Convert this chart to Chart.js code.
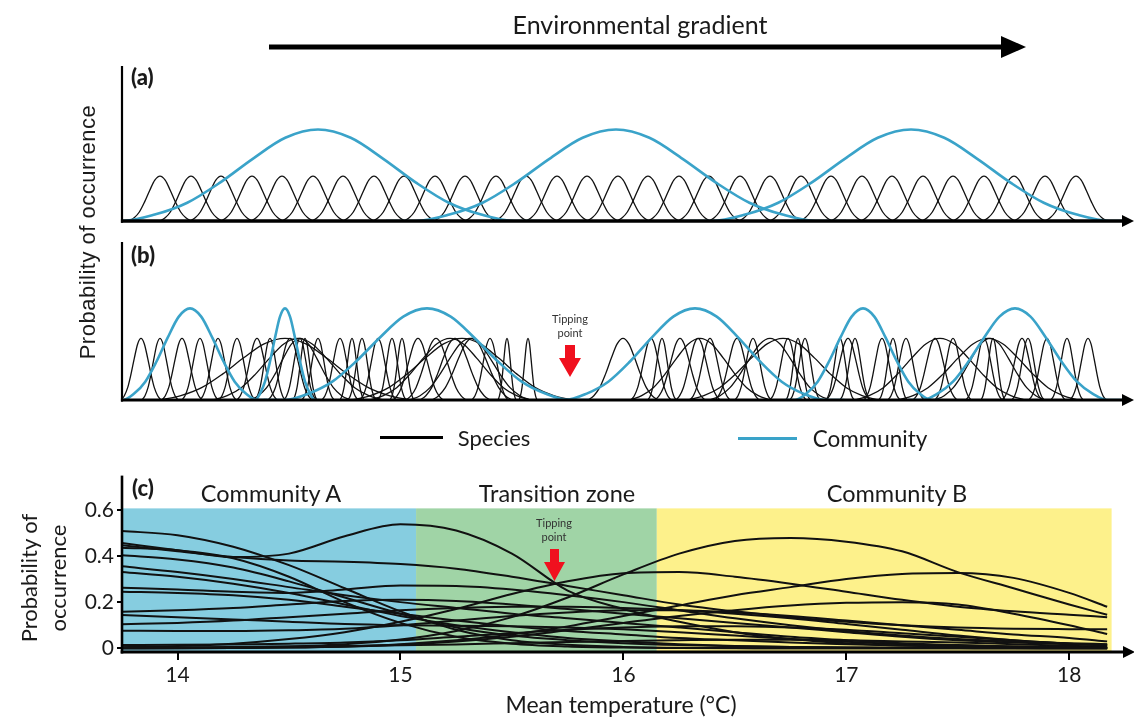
<!DOCTYPE html>
<html>
<head>
<meta charset="utf-8">
<script src="https://cdn.jsdelivr.net/npm/chart.js@4.4.1/dist/chart.umd.min.js"></script>
<style>
  body { margin: 0; width: 1134px; height: 718px; overflow: hidden; position: relative; background: #fff;
         font-family: Lato, "Open Sans", sans-serif; color: #1a1a1a; }
  canvas { position: absolute; left: 0; }
  .lbl { position: absolute; white-space: nowrap; transform: translate(-50%, -50%); font-size: 22.5px; }
  .tag { position: absolute; font-weight: 900; font-size: 22px; }
  .tip { position: absolute; transform: translateX(-50%); font-size: 11px; line-height: 14px; text-align: center; color: #333; }
  .key { position: absolute; height: 3px; }
</style>
</head>
<body>
<canvas id="panel-a" width="1134" height="170" style="top:60px"></canvas>
<canvas id="panel-b" width="1134" height="170" style="top:236px"></canvas>
<canvas id="panel-c" width="1134" height="258" style="top:460px"></canvas>

<svg width="1134" height="718" style="position:absolute;left:0;top:0;pointer-events:none">
  <line x1="269" y1="47" x2="1004" y2="47" stroke="#000" stroke-width="5"/>
  <polygon points="1001,36 1026,47 1001,58" fill="#000"/>
  <polygon points="565,345 575,345 575,358 581,358 570,377 559,358 565,358" fill="#f0101e"/>
  <polygon points="550,549 559,549 559,562 565,562 554.5,581 544,562 550,562" fill="#f0101e"/>
</svg>

<div class="lbl" style="left:640px;top:24px;font-size:25px">Environmental gradient</div>
<div class="tag" style="left:131px;top:63px">(a)</div>
<div class="tag" style="left:131px;top:241px">(b)</div>
<div class="tag" style="left:132px;top:474px">(c)</div>
<div class="lbl" style="left:88px;top:232px;transform:translate(-50%,-50%) rotate(-90deg);font-family:'Liberation Sans',Arial,sans-serif;font-size:22px;letter-spacing:0.5px">Probability of occurrence</div>
<div class="tip" style="left:570px;top:312px">Tipping<br>point</div>
<div class="tip" style="left:554px;top:516px">Tipping<br>point</div>

<div class="key" style="left:380px;top:436px;width:63px;background:#000"></div>
<div class="lbl" style="left:494px;top:437px;font-size:22px">Species</div>
<div class="key" style="left:738px;top:437px;width:59px;background:#3aa3c9"></div>
<div class="lbl" style="left:870px;top:438px;font-size:22.5px">Community</div>

<div class="lbl" style="left:271px;top:493px;font-size:23.5px">Community A</div>
<div class="lbl" style="left:557px;top:493px;font-size:23.5px">Transition zone</div>
<div class="lbl" style="left:897px;top:493px;font-size:23.5px">Community B</div>
<div class="lbl" style="left:43px;top:578px;transform:translate(-50%,-50%) rotate(-90deg);text-align:center;line-height:29px;font-size:22px">Probability of<br>occurrence</div>
<div class="lbl" style="left:621px;top:704px;font-size:23px">Mean temperature (°C)</div>

<script>
// shared bell outline: offset in half-widths, height relative to the peak
const bellOffsets = [-1, -0.833, -0.667, -0.5, -0.333, -0.167, 0, 0.167, 0.333, 0.5, 0.667, 0.833, 1];
const bellHeights = [0, 0.07, 0.2, 0.42, 0.68, 0.91, 1, 0.91, 0.68, 0.42, 0.2, 0.07, 0];

// (a) evenly spaced species, gradient units from the y axis
const aSpeciesCentres = [38, 69, 99, 130, 160, 191, 221, 252, 282, 313, 343, 374, 404, 435, 465, 496,
  526, 557, 587, 618, 648, 679, 709, 740, 770, 801, 831, 862, 892, 923, 954];
const aSpeciesHalfWidth = 31;
const aSpeciesPeak = 0.29;
const aCommunityCentres = [196, 494, 789];
const aCommunityHalfWidths = [196, 200, 199];
const aCommunityPeak = 0.59;

// (b) uneven species, narrow and broad niches
const bSpeciesCentres = [19, 38, 60, 78, 96, 115, 135, 148, 168, 178, 183, 196, 218, 230, 240, 256, 270,
  280, 296, 314, 333, 350, 368, 385, 406, 501, 529, 540, 558, 576, 588, 615, 631, 666, 676, 683, 718,
  726, 733, 760, 771, 784, 813, 831, 862, 871, 900, 906, 925, 945, 966,
  163, 176, 178, 328, 340, 348, 578, 648, 661, 818, 866, 868];
const bSpeciesHalfWidths = [20, 18, 20, 18, 18, 18, 20, 15, 22, 16, 12, 16, 18, 12, 14, 18, 14,
  12, 25, 30, 35, 40, 18, 9, 9, 35, 20, 14, 25, 22, 20, 22, 18, 18, 12, 15, 14,
  22, 15, 18, 14, 18, 22, 18, 18, 12, 20, 16, 18, 16, 18,
  125, 85, 50, 80, 110, 60, 70, 60, 95, 85, 90, 55];
const bSpeciesPeak = 0.39;
const bCommunityCentres = [68, 163, 305, 573, 741, 893];
const bCommunityHalfWidths = [67, 30, 142, 130, 68, 93];
const bCommunityPeak = 0.58;

// (c) fitted occurrence curves against mean temperature
const temperatures = [13.75, 14, 14.25, 14.5, 14.75, 15, 15.25, 15.5, 15.75, 16, 16.25, 16.5, 16.75, 17, 17.25, 17.5, 17.75, 18, 18.17];
const spA1 = [0.508, 0.49, 0.44, 0.36, 0.26, 0.16, 0.08, 0.035, 0.015, 0.006, 0.002, 0.001, 0, 0, 0, 0, 0, 0, 0];
const spA2 = [0.456, 0.425, 0.395, 0.41, 0.485, 0.537, 0.51, 0.41, 0.25, 0.17, 0.115, 0.07, 0.04, 0.022, 0.012, 0.006, 0.003, 0.002, 0.001];
const spA3 = [0.446, 0.42, 0.395, 0.38, 0.375, 0.365, 0.345, 0.31, 0.27, 0.23, 0.19, 0.16, 0.135, 0.115, 0.1, 0.09, 0.085, 0.083, 0.082];
const spA4 = [0.436, 0.425, 0.39, 0.31, 0.2, 0.11, 0.05, 0.02, 0.008, 0.003, 0.001, 0, 0, 0, 0, 0, 0, 0, 0];
const spA5 = [0.403, 0.385, 0.35, 0.29, 0.22, 0.15, 0.09, 0.055, 0.035, 0.022, 0.014, 0.009, 0.006, 0.004, 0.002, 0.001, 0.001, 0, 0];
const spA6 = [0.355, 0.33, 0.3, 0.265, 0.23, 0.2, 0.175, 0.15, 0.13, 0.11, 0.09, 0.07, 0.05, 0.035, 0.022, 0.014, 0.008, 0.005, 0.004];
const spA7 = [0.331, 0.31, 0.28, 0.24, 0.19, 0.14, 0.1, 0.07, 0.045, 0.03, 0.018, 0.01, 0.006, 0.003, 0.002, 0.001, 0, 0, 0];
const spA8 = [0.262, 0.255, 0.245, 0.24, 0.255, 0.272, 0.27, 0.255, 0.23, 0.2, 0.165, 0.13, 0.1, 0.075, 0.055, 0.04, 0.03, 0.022, 0.018];
const spA9 = [0.245, 0.24, 0.23, 0.21, 0.18, 0.15, 0.12, 0.095, 0.075, 0.06, 0.045, 0.035, 0.025, 0.018, 0.012, 0.008, 0.005, 0.003, 0.002];
const spA10 = [0.158, 0.165, 0.175, 0.19, 0.205, 0.21, 0.205, 0.19, 0.17, 0.15, 0.13, 0.11, 0.09, 0.07, 0.05, 0.035, 0.025, 0.018, 0.015];
const spA11 = [0.144, 0.135, 0.125, 0.115, 0.105, 0.1, 0.098, 0.095, 0.09, 0.082, 0.07, 0.055, 0.04, 0.028, 0.018, 0.012, 0.008, 0.005, 0.004];
const spA12 = [0.104, 0.11, 0.12, 0.135, 0.15, 0.165, 0.175, 0.18, 0.18, 0.175, 0.165, 0.15, 0.13, 0.105, 0.08, 0.055, 0.035, 0.02, 0.015];
const spA13 = [0.076, 0.075, 0.075, 0.078, 0.085, 0.1, 0.12, 0.14, 0.155, 0.165, 0.165, 0.155, 0.14, 0.12, 0.1, 0.08, 0.06, 0.045, 0.03];
const spA14 = [0.014, 0.015, 0.017, 0.02, 0.025, 0.035, 0.05, 0.065, 0.08, 0.09, 0.095, 0.095, 0.09, 0.08, 0.065, 0.05, 0.035, 0.02, 0.012];
const spA15 = [0.005, 0.005, 0.006, 0.008, 0.01, 0.013, 0.017, 0.022, 0.027, 0.032, 0.035, 0.037, 0.037, 0.035, 0.03, 0.025, 0.018, 0.011, 0.007];
const spB1 = [0, 0.001, 0.003, 0.008, 0.018, 0.038, 0.075, 0.135, 0.22, 0.32, 0.41, 0.465, 0.478, 0.462, 0.42, 0.33, 0.26, 0.19, 0.145];
const spB2 = [0, 0, 0.001, 0.003, 0.008, 0.018, 0.035, 0.06, 0.095, 0.14, 0.185, 0.23, 0.265, 0.3, 0.322, 0.326, 0.305, 0.24, 0.18];
const spB3 = [0.005, 0.01, 0.02, 0.04, 0.07, 0.115, 0.17, 0.235, 0.29, 0.325, 0.33, 0.31, 0.28, 0.245, 0.21, 0.18, 0.16, 0.145, 0.135];
const spB4 = [0, 0, 0.001, 0.003, 0.007, 0.015, 0.03, 0.05, 0.078, 0.11, 0.14, 0.165, 0.185, 0.197, 0.2, 0.19, 0.15, 0.1, 0.062];
const cCurves = [spA1, spA2, spA3, spA4, spA5, spA6, spA7, spA8, spA9, spA10, spA11, spA12, spA13, spA14, spA15, spB1, spB2, spB3, spB4];

const zoneEdges = [13.75, 15.07, 16.15, 18.19];
const zoneTop = 0.606;
const cTicksY = [0, 0.2, 0.4, 0.6];
const cTicksX = [14, 15, 16, 17, 18];

const speciesColour = "#111";
const communityColour = "#3aa3c9";
const zoneColours = ["#86cde0", "#a0d4a6", "#fdf18b"];

const bell = (centre, halfWidth, peak, tail) => {
  const pts = bellOffsets.map((o, i) => ({ x: centre + o * halfWidth, y: bellHeights[i] * peak }));
  if (tail) {
    pts.unshift({ x: centre - (1 + tail) * halfWidth, y: 0 });
    pts.push({ x: centre + (1 + tail) * halfWidth, y: 0 });
  }
  return pts;
};

const lineSet = (data, colour, width) => ({
  data,
  borderColor: colour,
  borderWidth: width,
  pointRadius: 0,
  fill: false,
  cubicInterpolationMode: "monotone",
});

const drawArrowAxes = (xWidth, yWidth) => ({
  id: "arrowAxes",
  afterDatasetsDraw(chart) {
    const { ctx, chartArea } = chart;
    const { left, right, top, bottom } = chartArea;
    ctx.save();
    ctx.strokeStyle = "#000";
    ctx.fillStyle = "#000";
    ctx.lineWidth = yWidth;
    ctx.beginPath();
    ctx.moveTo(left, top);
    ctx.lineTo(left, bottom + xWidth / 2);
    ctx.stroke();
    ctx.lineWidth = xWidth;
    ctx.beginPath();
    ctx.moveTo(left - yWidth / 2, bottom);
    ctx.lineTo(right - 6, bottom);
    ctx.stroke();
    ctx.beginPath();
    ctx.moveTo(right - 8, bottom - 6);
    ctx.lineTo(right + 4, bottom);
    ctx.lineTo(right - 8, bottom + 6);
    ctx.closePath();
    ctx.fill();
    ctx.restore();
  },
});

const baseOptions = (padding) => ({
  responsive: false,
  animation: false,
  devicePixelRatio: 1,
  layout: { padding },
  plugins: { legend: { display: false }, tooltip: { enabled: false } },
  elements: { point: { radius: 0 } },
});

const gradientPanel = (id, speciesC, speciesHw, speciesPeak, commC, commHw, commPeak) => {
  const datasets = [];
  commC.forEach((c, i) => datasets.push(lineSet(bell(c, commHw[i], commPeak, 0.15), communityColour, 2.6)));
  speciesC.forEach((c, i) => {
    const hw = Array.isArray(speciesHw) ? speciesHw[i] : speciesHw;
    datasets.push(lineSet(bell(c, hw, speciesPeak), speciesColour, 1.3));
  });
  new Chart(document.getElementById(id), {
    type: "line",
    data: { datasets },
    options: {
      ...baseOptions({ left: 122, right: 4, top: 6, bottom: id === "panel-a" ? 9 : 6 }),
      scales: {
        x: { type: "linear", min: 0, max: 1008, display: false },
        y: { min: 0, max: 1, display: false },
      },
    },
    plugins: [drawArrowAxes(id === "panel-a" ? 3.5 : 3.2, 2.2)],
  });
};

gradientPanel("panel-a", aSpeciesCentres, aSpeciesHalfWidth, aSpeciesPeak, aCommunityCentres, aCommunityHalfWidths, aCommunityPeak);
gradientPanel("panel-b", bSpeciesCentres, bSpeciesHalfWidths, bSpeciesPeak, bCommunityCentres, bCommunityHalfWidths, bCommunityPeak);

const zonePlugin = {
  id: "zones",
  beforeDatasetsDraw(chart) {
    const { ctx, chartArea, scales } = chart;
    const yTop = scales.y.getPixelForValue(zoneTop);
    ctx.save();
    zoneColours.forEach((colour, i) => {
      const x0 = scales.x.getPixelForValue(zoneEdges[i]);
      const x1 = scales.x.getPixelForValue(zoneEdges[i + 1]);
      ctx.fillStyle = colour;
      ctx.fillRect(x0, yTop, x1 - x0, chartArea.bottom - yTop);
    });
    ctx.restore();
  },
};

const tickFont = { family: "Lato, 'Open Sans', sans-serif", size: 21 };

new Chart(document.getElementById("panel-c"), {
  type: "line",
  data: {
    datasets: cCurves.map((curve) => lineSet(temperatures.map((t, i) => ({ x: t, y: curve[i] })), speciesColour, 2)),
  },
  options: {
    ...baseOptions({ left: 0, right: 3, top: 15, bottom: 0 }),
    scales: {
      x: {
        type: "linear",
        min: 13.751,
        max: 18.277,
        afterBuildTicks: (scale) => { scale.ticks = cTicksX.map((v) => ({ value: v })); },
        afterFit: (scale) => { scale.height = 66; },
        border: { display: false },
        grid: { drawOnChartArea: false, color: "#000", lineWidth: 2, tickLength: 8 },
        ticks: { color: "#1a1a1a", font: tickFont, padding: 3 },
      },
      y: {
        min: -0.016,
        max: 0.748,
        afterBuildTicks: (scale) => { scale.ticks = cTicksY.map((v) => ({ value: v })); },
        afterFit: (scale) => { scale.width = 122; },
        border: { display: false },
        grid: { drawOnChartArea: false, color: "#000", lineWidth: 2, tickLength: 5 },
        ticks: { color: "#1a1a1a", font: tickFont, padding: 3, callback: (v) => String(v) },
      },
    },
  },
  plugins: [zonePlugin, drawArrowAxes(3, 2.6)],
});
</script>
</body>
</html>
